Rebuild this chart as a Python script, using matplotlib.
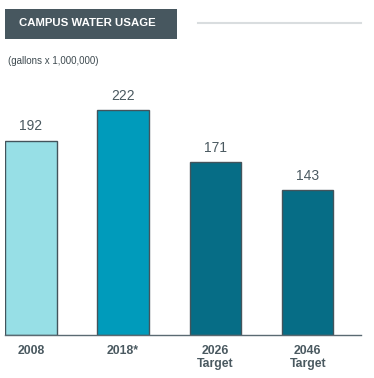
import matplotlib
matplotlib.use('Agg')
import matplotlib.pyplot as plt
from matplotlib.patches import Rectangle
from matplotlib.lines import Line2D

categories = ['2008', '2018*', '2026\nTarget', '2046\nTarget']
values = [192, 222, 171, 143]
bar_colors = ['#97DFE6', '#009BBB', '#066D86', '#066D86']

W, H = 374, 378
fig = plt.figure(figsize=(W / 100, H / 100), dpi=100)

edge = '#43545C'
text_dark = '#4A5960'

# axes placed in pixel coords: baseline at y=335 px, spans x 5..361
ax = fig.add_axes([5 / W, 43 / H, 356 / W, 235 / H])
x = range(len(values))
ax.bar(x, values, width=0.558, color=bar_colors, edgecolor=edge, linewidth=1.0)
ax.set_xlim(-0.279, 3.577)
ax.set_ylim(0, 232)

for xi, v in zip(x, values):
    ax.text(xi, v + 7, str(v), ha='center', va='bottom', fontsize=10,
            color=text_dark, family='Liberation Sans')

ax.set_xticks(list(x))
ax.set_xticklabels(categories, fontsize=8.8, fontweight='bold', color=text_dark,
                   family='Liberation Sans', linespacing=1.1, va='top')
ax.tick_params(axis='x', length=0, pad=7)
ax.set_yticks([])
for s in ['top', 'right', 'left']:
    ax.spines[s].set_visible(False)
ax.spines['bottom'].set_color('#5A6A72')
ax.spines['bottom'].set_linewidth(1.0)

# title box
fig.patches.append(Rectangle((5 / W, 1 - 39 / H), 172 / W, 30 / H,
                             transform=fig.transFigure, facecolor='#47575F',
                             edgecolor='none'))
fig.text(87 / W, 1 - 23.5 / H, 'CAMPUS WATER USAGE', ha='center', va='center',
         color='white', fontsize=8.2, fontweight='bold', family='Liberation Sans')
fig.lines.append(Line2D([198 / W, 361 / W], [1 - 23 / H, 1 - 23 / H],
                        transform=fig.transFigure, color='#D9DDDF', linewidth=1.5))
fig.text(8 / W, 1 - 61 / H, '(gallons x 1,000,000)', ha='left', va='center',
         color='#3E4A50', fontsize=7, family='Liberation Sans')

fig.savefig('out.png', dpi=100)
